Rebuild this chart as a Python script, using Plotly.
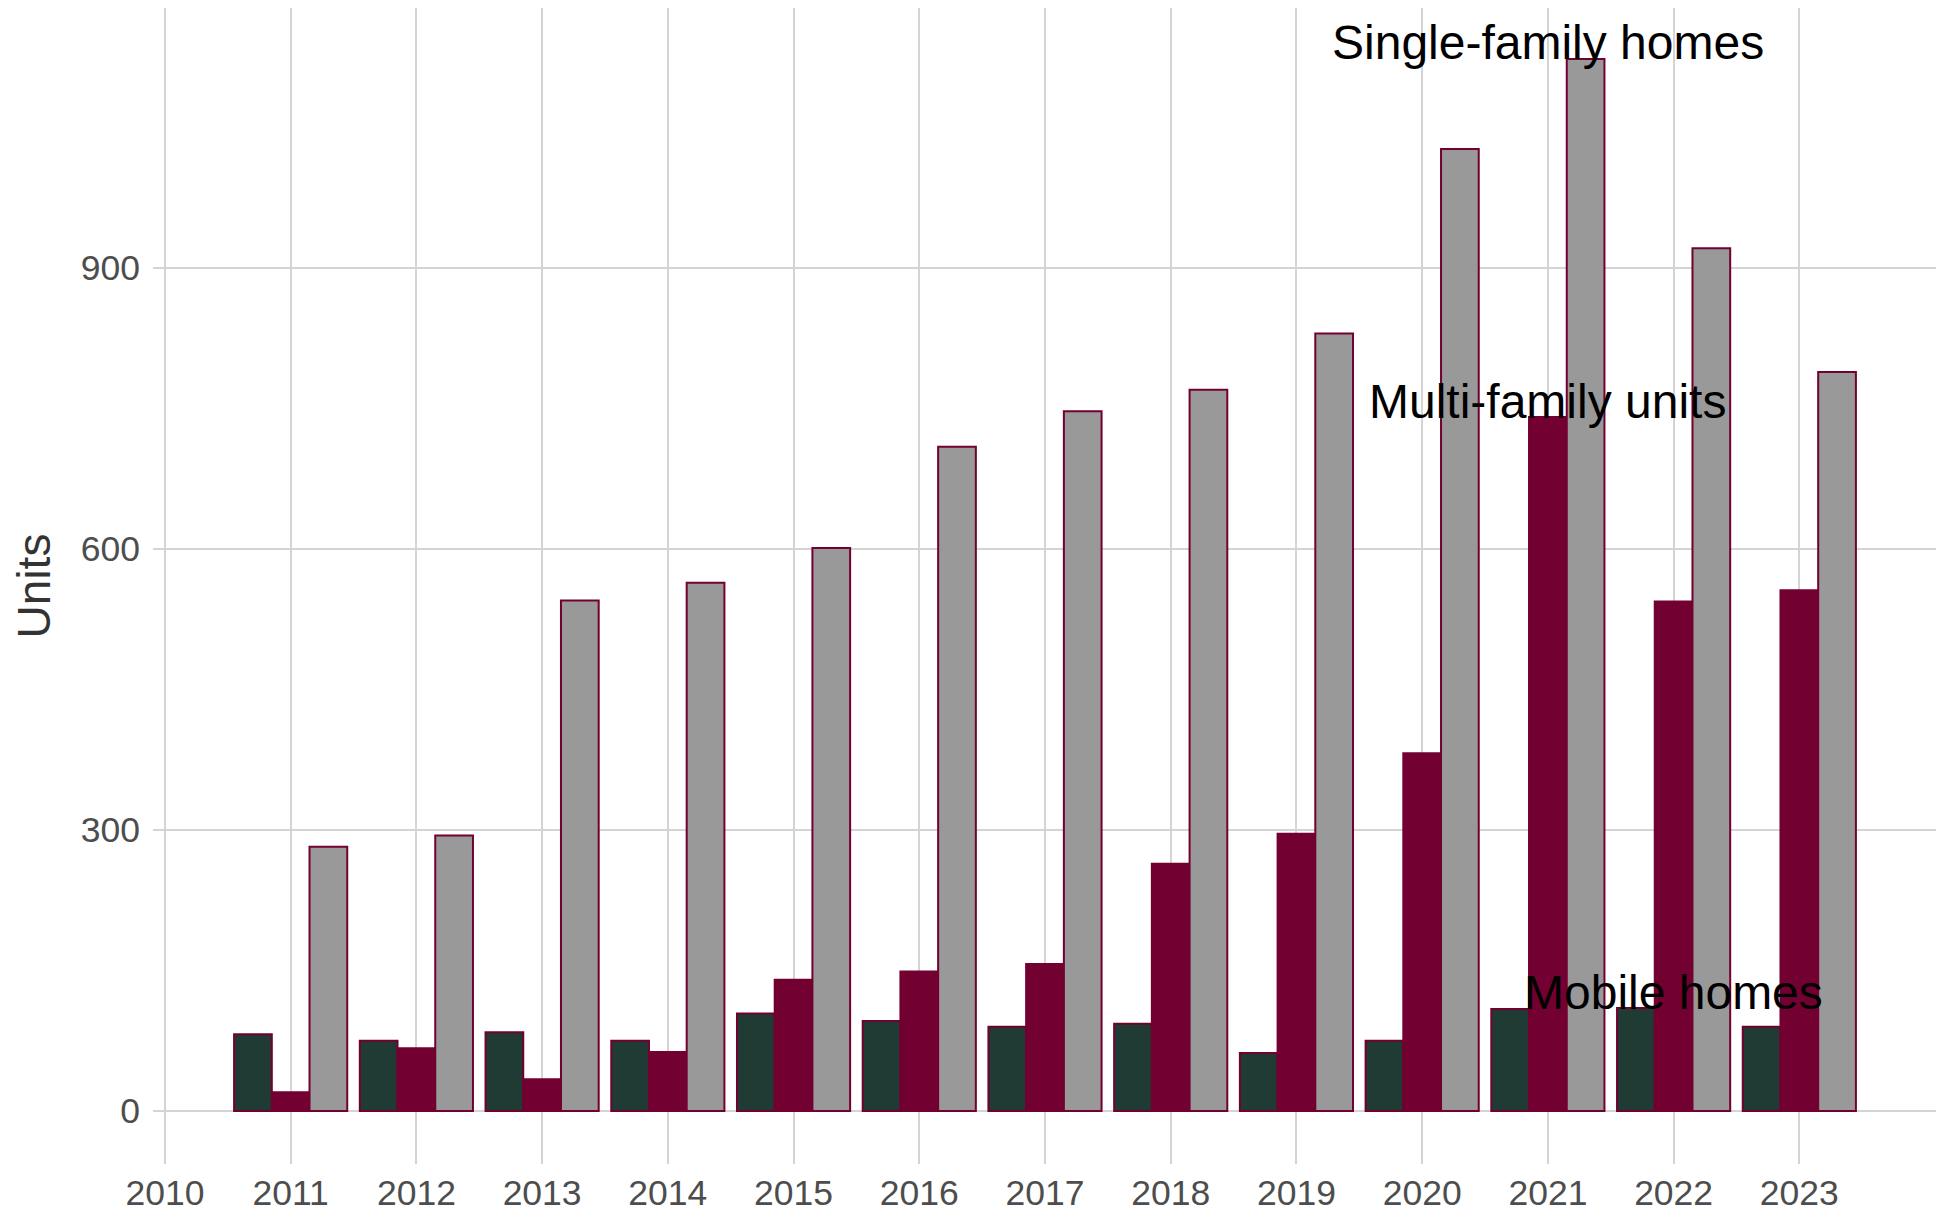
import plotly.graph_objects as go

years = [2011, 2012, 2013, 2014, 2015, 2016, 2017, 2018, 2019, 2020, 2021, 2022, 2023]
mobile_homes = [82, 75, 84, 75, 104, 96, 90, 93, 62, 75, 109, 110, 90]
multi_family = [20, 67, 34, 63, 140, 149, 157, 264, 296, 382, 741, 544, 556]
single_family = [282, 294, 545, 564, 601, 709, 747, 770, 830, 1027, 1123, 921, 789]

series_names = ["Mobile homes", "Multi-family units", "Single-family homes"]
series_values = [mobile_homes, multi_family, single_family]
fill_colors = ["#1f3b34", "#720030", "#999999"]
outline_color = "#720030"

# label positions (x year, y value)
label_x = [2022, 2021, 2021]
label_y = [127, 757, 1141]

y_ticks = [0, 300, 600, 900]
x_ticks = list(range(2010, 2024))

FONT = "Liberation Sans, Arial, Helvetica, sans-serif"

fig = go.Figure()
for name, vals, col in zip(series_names, series_values, fill_colors):
    fig.add_trace(go.Bar(
        x=years, y=vals, name=name,
        marker=dict(color=col, line=dict(color=outline_color, width=2)),
        showlegend=False,
    ))

for name, lx, ly in zip(series_names, label_x, label_y):
    fig.add_annotation(x=lx, y=ly, text=name, showarrow=False,
                       xanchor="center", yanchor="middle",
                       font=dict(family=FONT, size=48, color="black"))

fig.update_layout(
    width=1944, height=1207,
    margin=dict(l=145, r=15, t=0, b=51),
    paper_bgcolor="white", plot_bgcolor="white",
    barmode="group", bargap=0.1, bargroupgap=0,
    font=dict(family=FONT),
)
fig.update_xaxes(
    range=[2009.905, 2024.095], tickvals=x_ticks, ticktext=[str(v) for v in x_ticks],
    showgrid=True, gridcolor="#d4d4d4", gridwidth=2, zeroline=False,
    showline=False, ticks="", automargin=False, ticklabelstandoff=4,
    tickfont=dict(family=FONT, size=35.5, color="#4d4d4d"),
)
fig.update_yaxes(
    range=[-56.6, 1177.5], tickvals=y_ticks, ticktext=[str(v) for v in y_ticks],
    showgrid=True, gridcolor="#d4d4d4", gridwidth=2, zeroline=False,
    showline=False, ticks="", automargin=False, ticklabelstandoff=12,
    tickfont=dict(family=FONT, size=35.5, color="#4d4d4d"),
    title=dict(text="Units", font=dict(family=FONT, size=46, color="#333333"), standoff=18),
)

fig.write_html("out.html")
